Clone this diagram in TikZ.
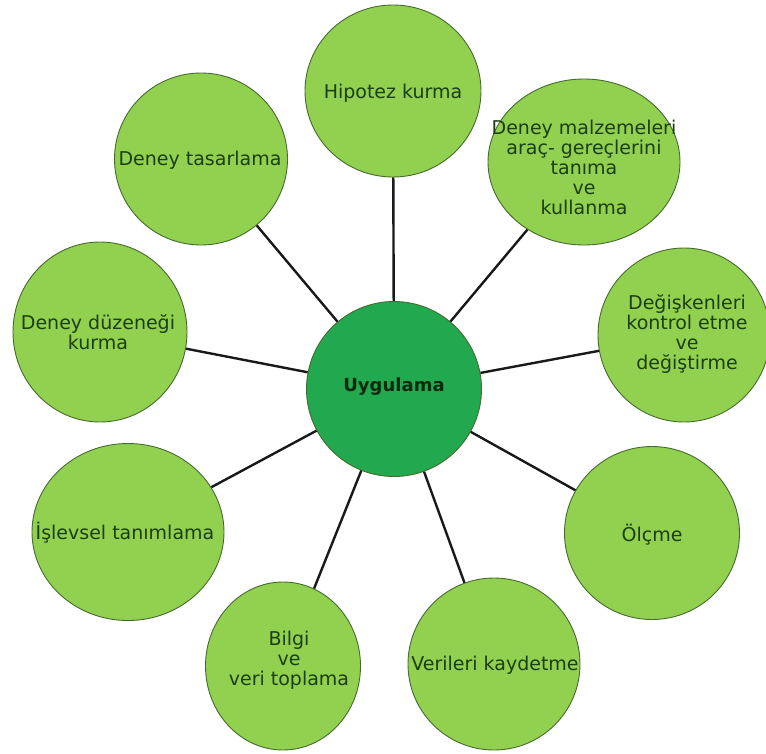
\documentclass[tikz,border=0pt]{standalone}
\usepackage{fontspec}
\setmainfont{DejaVu Sans}
\usetikzlibrary{shapes.geometric}
\definecolor{leaf}{HTML}{92D050}
\definecolor{core}{HTML}{22A84F}
\definecolor{rim}{HTML}{466B2E}
\definecolor{ink}{HTML}{1B3F12}
\definecolor{coreink}{HTML}{0A2A0E}
\tikzset{
	ball/.style={ellipse, draw=rim, fill=leaf, line width=0.9pt, inner sep=0pt},
	hub/.style={ball, fill=core},
	word/.style={text=ink, align=center, font=\fontsize{19}{20}\selectfont},
	spoke/.style={line width=2.4pt, black!90}
}

\begin{document}
\begin{tikzpicture}[x=1pt, y=-1pt]
            \clip (0,0) rectangle (766,753);
            % circles
            \node[hub, minimum width=175pt, minimum height=175pt] (u) at (394,389) {};
            \node[ball, minimum width=176pt, minimum height=172pt] (hip) at (393,91) {};
            \node[ball, minimum width=192pt, minimum height=166pt] (mal) at (584,162) {};
            \node[ball, minimum width=172pt, minimum height=174pt] (deg) at (684,335) {};
            \node[ball, minimum width=175pt, minimum height=173pt] (olc) at (652,533) {};
            \node[ball, minimum width=172pt, minimum height=172pt] (ver) at (494,664) {};
            \node[ball, minimum width=155pt, minimum height=168pt] (bil) at (283,666) {};
            \node[ball, minimum width=192pt, minimum height=177pt] (isl) at (128,532) {};
            \node[ball, minimum width=174pt, minimum height=180pt] (duz) at (100,332) {};
            \node[ball, minimum width=173pt, minimum height=172pt] (tas) at (201,159) {};
            % texts
            \node[word, text=coreink, font=\fontsize{18}{20}\selectfont\bfseries] (u-t) at (394,387) {Uygulama};
            \node[word] (hip-t) at (393,93) {Hipotez kurma};
            \node[word] (mal-t) at (584,167) {Deney malzemeleri\\araç- gereçlerini\\tanıma\\ve\\kullanma};
            \node[word] (deg-t) at (687,334) {Değişkenleri\\kontrol etme\\ve\\değiştirme};
            \node[word] (olc-t) at (652,535) {Ölçme};
            \node[word] (ver-t) at (495,665) {Verileri kaydetme};
            \node[word] (bil-t) at (289,660) {Bilgi\\ve\\veri toplama};
            \node[word] (isl-t) at (125,533) {İşlevsel tanımlama};
            \node[word] (duz-t) at (98,332) {Deney düzeneği\\kurma};
            \node[word] (tas-t) at (200,160) {Deney tasarlama};
            % spokes
            \draw[spoke] (u) -- (hip);
            \draw[spoke] (u) -- (mal);
            \draw[spoke] (u) -- (deg);
            \draw[spoke] (u) -- (olc);
            \draw[spoke] (u) -- (ver);
            \draw[spoke] (u) -- (bil);
            \draw[spoke] (u) -- (isl);
            \draw[spoke] (u) -- (duz);
            \draw[spoke] (u) -- (tas);
        \end{tikzpicture}
\end{document}
